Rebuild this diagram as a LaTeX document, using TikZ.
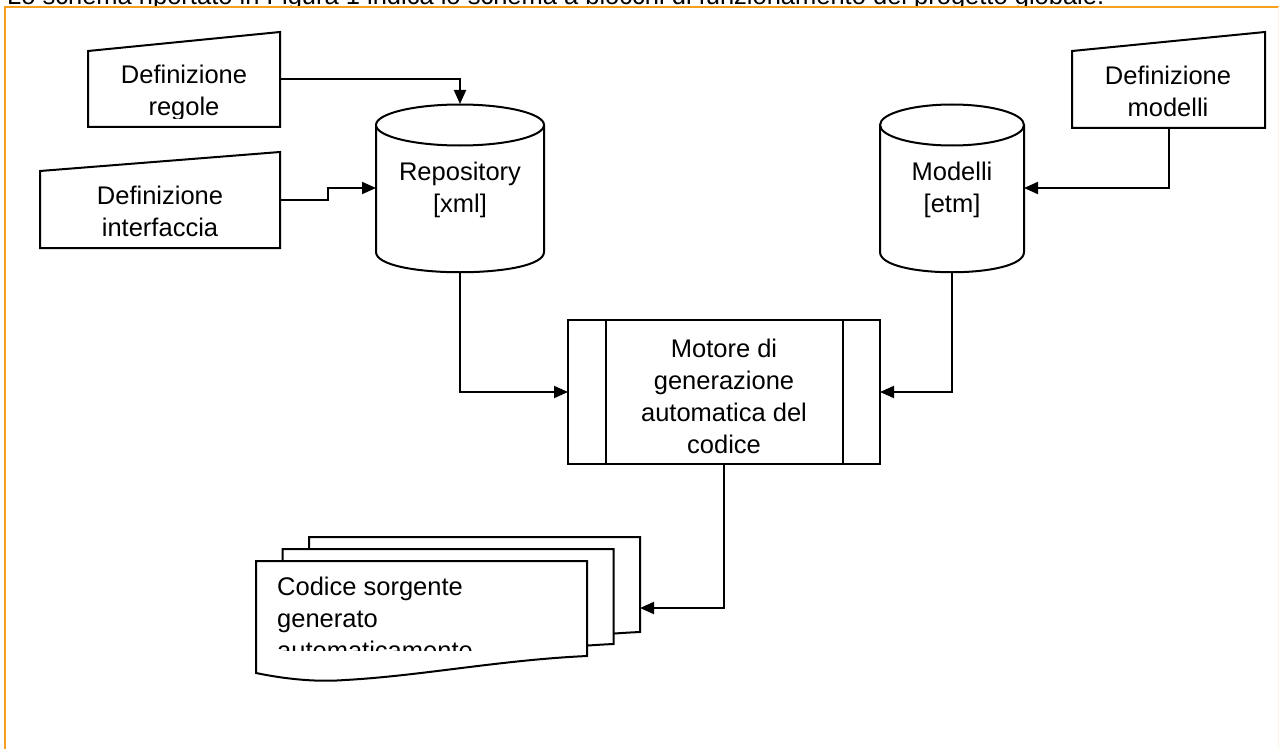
\documentclass[tikz,border=0pt]{standalone}
\usepackage{fontspec}
\setmainfont{Liberation Sans}
\usetikzlibrary{arrows.meta}
\definecolor{frameorange}{RGB}{247,160,30}
\newcommand{\diagfont}{\fontsize{25.5}{32}\selectfont}
\tikzset{
  outline/.style={draw=black, line width=2pt, fill=white},
  boxtext/.style={font=\diagfont, align=center, inner sep=0pt},
  process/.style={rectangle, draw=black, line width=2pt, fill=white, outer sep=0pt,
    minimum width=312pt, minimum height=144pt},
  arrow/.style={line width=2pt, -{Triangle[length=14pt,width=12pt]}},
}
\begin{document}
\begin{tikzpicture}[x=1pt, y=-1pt]
	\useasboundingbox (0,0) rectangle (1279,749);

	% sentence above the frame, only its lower edge shows
	\begin{scope}
		\clip (0,0) rectangle (1279,6);
		\node (intro) [font=\diagfont, anchor=base west, inner sep=0pt] at (7,5) {Lo schema riportato in Figura 1 indica lo schema a blocchi di funzionamento del progetto globale.};
	\end{scope}
	\draw [frameorange, line width=2pt] (5.3,749) -- (5.3,6.7) -- (1279,6.7);
	\draw [frameorange!12, line width=1.5pt] (1278.3,6.7) -- (1278.3,749);

	% manual input boxes (base = last line)
	\draw [outline] (88,51) -- (280,32) -- (280,127) -- (88,127) -- cycle;
	\begin{scope}
		\clip (88,32) rectangle (280,119);
		\node (regole) [boxtext, anchor=base] at (184,116) {Definizione\\regole};
	\end{scope}
	\draw [outline] (40,171) -- (280,152) -- (280,248) -- (40,248) -- cycle;
	\node (interf) [boxtext, anchor=base] at (160,236) {Definizione\\interfaccia};
	\draw [outline] (1072,51) -- (1265,32) -- (1265,128) -- (1072,128) -- cycle;
	\node (defmod) [boxtext, anchor=base] at (1168,117) {Definizione\\modelli};

	% databases
	\foreach \cx/\rx in {460/84, 952/72} {
		\draw [outline] (\cx-\rx,125) -- (\cx-\rx,252) .. controls (\cx-\rx,279) and (\cx+\rx,279) .. (\cx+\rx,252) -- (\cx+\rx,125);
		\draw [outline] (\cx,125) ellipse [x radius=\rx, y radius=20.5];
	}
	\node (repo) [boxtext, anchor=base] at (460,212) {Repository\\{}[xml]};
	\node (modelli) [boxtext, anchor=base] at (952,212) {Modelli\\{}[etm]};

	% generator
	\node (motore) [process] at (724,392) {};
	\draw [line width=2pt] ([xshift=38pt]motore.north west) -- ([xshift=38pt]motore.south west);
	\draw [line width=2pt] ([xshift=-37pt]motore.north east) -- ([xshift=-37pt]motore.south east);
	\node (motoretext) [boxtext, anchor=base] at (724,453) {Motore di\\generazione\\automatica del\\codice};

	% stack of output documents
	\foreach \dx/\dy in {53/-24, 26.5/-12, 0/0}
		\draw [outline, shift={(\dx,\dy)}] (256,561) -- (587,561) -- (587,656) .. controls (500,660) and (420,676) .. (345,680) .. controls (320,682) and (290,680) .. (256,673) -- cycle;
	\begin{scope}
		\clip (256,561) rectangle (587,650);
		\node (codice) [boxtext, align=left, anchor=base west] at (277,659) {Codice sorgente\\generato\\automaticamente};
	\end{scope}

	% connectors
	\coordinate (regole-out) at (280,79);
	\coordinate (repo-top) at (460,104);
	\coordinate (interf-out) at (280,200);
	\coordinate (repo-in) at (376,188);
	\coordinate (repo-out) at (460,272);
	\coordinate (defmod-out) at (1169,128);
	\coordinate (modelli-in) at (1024,188);
	\coordinate (modelli-out) at (952,272);
	\coordinate (codice-in) at (640,608);

	\draw [arrow] (regole-out) -| (repo-top);
	\draw [arrow] (interf-out) -- ++(48,0) |- (repo-in);
	\draw [arrow] (defmod-out) |- (modelli-in);
	\draw [arrow] (repo-out) |- (motore.west);
	\draw [arrow] (modelli-out) |- (motore.east);
	\draw [arrow] (motore.south) |- (codice-in);
\end{tikzpicture}
\end{document}
